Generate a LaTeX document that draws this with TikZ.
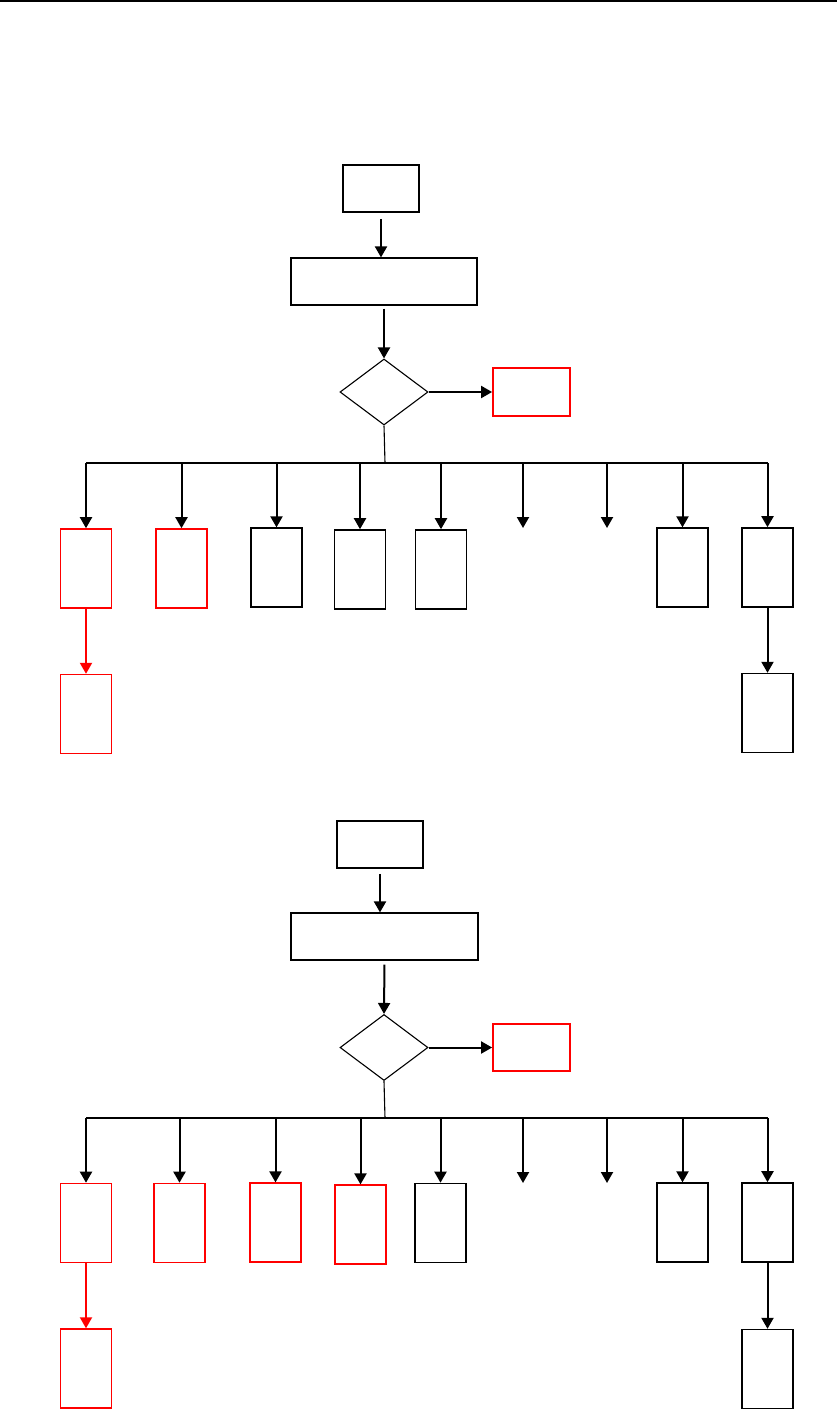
\documentclass[tikz,border=0pt]{standalone}
\usetikzlibrary{positioning,arrows.meta,shapes.geometric}

\tikzset{
  box/.style={draw, rectangle, inner sep=0pt, minimum width=51pt, minimum height=79pt, line width=1.6pt},
  redbox/.style={box, draw=red},
  dec/.style={draw, diamond, inner sep=0pt, minimum width=88pt, minimum height=66pt, line width=1.1pt},
  arr/.style={-{Triangle[width=12pt,length=11pt]}, line width=2pt},
  bus/.style={line width=1.1pt}
}

\begin{document}
\begin{tikzpicture}[x=1pt, y=-1pt]
  \useasboundingbox (0,0) rectangle (837,1409);
  \draw[line width=1.3pt] (0,1) -- (837,1);

  % first chart
  \node[draw, rectangle, line width=1.8pt, minimum width=76pt, minimum height=47pt] (start1) at (381,188.5) {};
  \node[draw, rectangle, line width=1.2pt, minimum width=186pt, minimum height=47pt] (proc1) at (384,281.5) {};
  \node[dec] (dec1) at (384,392) {};
  \node[draw=red, rectangle, line width=1.8pt, minimum width=77pt, minimum height=48pt] (err1) at (531.5,392) {};
  \coordinate (bus1) at (385,463);
  \node[redbox] (b11) at (86,568.5) {};
  \node[redbox] (b12) at (181.5,568.5) {};
  \node[box, line width=1.3pt] (b13) at (276.5,567.5) {};
  \node[box] (b14) at (360,569.5) {};
  \node[box] (b15) at (441,569.5) {};
  \coordinate (c16) at (523,528);
  \coordinate (c17) at (607,528);
  \node[box, line width=1.3pt] (b18) at (682.5,567.5) {};
  \node[box] (b19) at (767.5,567.5) {};
  \node[redbox, below=65pt of b11] (b1a) {};
  \node[box, below=65pt of b19] (b19a) {};

  \draw[arr, shorten <=6pt] (start1.south) -- (start1.south |- proc1.north);
  \draw[arr, shorten <=3pt] (proc1.south) -- (dec1.north);
  \draw[arr] (dec1.east) -- (err1.west);
  \draw[bus] (dec1.south) -- (bus1);
  \draw[bus] (bus1 -| b11.north) -- (bus1 -| b19.north);
  \foreach \b in {b11,b12,b13,b14,b15,b18,b19}
    \draw[arr] (bus1 -| \b.north) -- (\b.north);
  \draw[arr] (bus1 -| c16) -- (c16);
  \draw[arr] (bus1 -| c17) -- (c17);
  \draw[arr, red] (b11.south) -- (b1a.north);
  \draw[arr] (b19.south) -- (b19a.north);

  % second chart
  \node[draw, rectangle, line width=1.8pt, minimum width=86pt, minimum height=47pt] (start2) at (380,844.5) {};
  \node[draw, rectangle, line width=1.2pt, minimum width=187pt, minimum height=47pt] (proc2) at (384.5,936.5) {};
  \node[dec] (dec2) at (384,1047.5) {};
  \node[draw=red, rectangle, line width=1.8pt, minimum width=77pt, minimum height=47pt] (err2) at (531.5,1047.5) {};
  \coordinate (bus2) at (385,1118);
  \node[redbox] (b21) at (86,1223) {};
  \node[redbox] (b22) at (179.5,1223) {};
  \node[redbox, line width=1.2pt] (b23) at (275.5,1222.5) {};
  \node[redbox, line width=1.2pt] (b24) at (360.5,1224.5) {};
  \node[box] (b25) at (440.5,1223) {};
  \coordinate (c26) at (523,1183);
  \coordinate (c27) at (607,1183);
  \node[box, line width=1.3pt] (b28) at (682.5,1222.5) {};
  \node[box] (b29) at (767.5,1222.5) {};
  \node[redbox, below=65pt of b21] (b2a) {};
  \node[box, below=66pt of b29] (b29a) {};

  \draw[arr, shorten <=5pt] (start2.south) -- (start2.south |- proc2.north);
  \draw[arr, shorten <=4pt] (proc2.south) -- (dec2.north);
  \draw[arr] (dec2.east) -- (err2.west);
  \draw[bus] (dec2.south) -- (bus2);
  \draw[bus] (bus2 -| b21.north) -- (bus2 -| b29.north);
  \foreach \b in {b21,b22,b23,b24,b25,b28,b29}
    \draw[arr] (bus2 -| \b.north) -- (\b.north);
  \draw[arr] (bus2 -| c26) -- (c26);
  \draw[arr] (bus2 -| c27) -- (c27);
  \draw[arr, red] (b21.south) -- (b2a.north);
  \draw[arr] (b29.south) -- (b29a.north);
\end{tikzpicture}
\end{document}
